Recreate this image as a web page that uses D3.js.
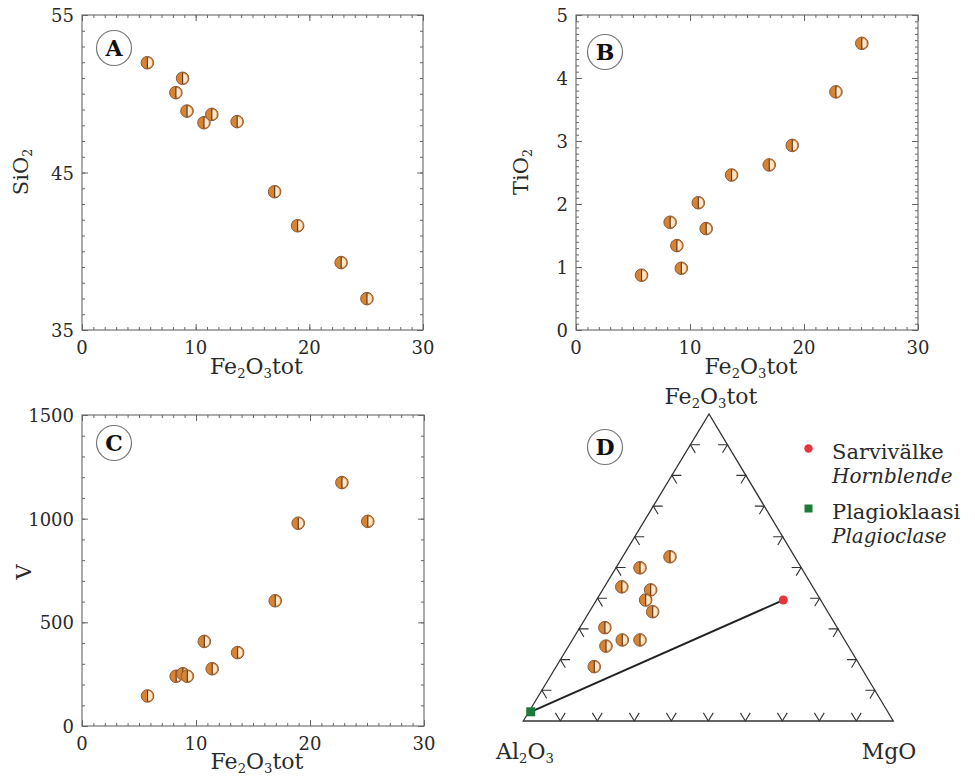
<!DOCTYPE html>
<html><head><meta charset="utf-8">
<script src="https://cdn.jsdelivr.net/npm/d3@7"></script>
<style>
body{margin:0;background:#fff;}
svg{display:block;}
svg text{fill:#2a2a2a;}
</style></head>
<body>
<svg id="c" width="975" height="779"></svg>
<script>
// ---------- data ----------
const fe2o3 = [5.75, 8.26, 8.85, 9.24, 10.73, 11.42, 13.65, 16.95, 18.97, 22.8, 25.07];
const sio2  = [51.97, 50.07, 50.98, 48.9, 48.16, 48.69, 48.23, 43.78, 41.62, 39.28, 36.99];
const tio2  = [0.87, 1.71, 1.34, 0.98, 2.02, 1.61, 2.46, 2.62, 2.93, 3.78, 4.55];
const vanad = [145, 240, 252, 240, 408, 276, 354, 604, 978, 1174, 987];

const xTicks = [0, 10, 20, 30];
const sioTicks = [35, 45, 55];
const tioTicks = [0, 1, 2, 3, 4, 5];
const vTicks = [0, 500, 1000, 1500];

// ternary (wt% normalised): Fe2O3tot (top), Al2O3 (left), MgO (right)
const triFe = [53.5, 49.9, 43.7, 42.7, 39.4, 35.6, 30.4, 24.4, 26.4, 26.4, 17.7];
const triMg = [12.8, 6.5, 4.7, 13.0, 13.3, 17.1, 6.8, 10.1, 13.5, 18.3, 10.3];
const triAl = triFe.map((f, i) => 100 - f - triMg[i]);
const mineralNames = ["Sarvivälke", "Plagioklaasi"];
const mineralNamesEn = ["Hornblende", "Plagioclase"];
const mineralFe = [39.4, 3.0];
const mineralMg = [50.5, 0.5];
const mineralAl = mineralFe.map((f, i) => 100 - f - mineralMg[i]);
const triTicks = [10, 20, 30, 40, 50, 60, 70, 80, 90];

// ---------- drawing ----------
const FONT = "'DejaVu Serif', 'Liberation Serif', serif";
const svg = d3.select("#c");

function marker(g, x, y) {
  const r = 6.3;
  const m = g.append("g").attr("transform", `translate(${x},${y})`);
  m.append("circle").attr("r", r).attr("fill", "#d8832f").attr("stroke", "#8a5a3a").attr("stroke-width", 1);
  m.append("path").attr("d", d3.arc()({innerRadius: 0, outerRadius: r - 1.4, startAngle: 0.1, endAngle: Math.PI - 0.1}))
    .attr("fill", "#fbe6cc");
  m.append("line").attr("x1", 0).attr("x2", 0).attr("y1", -r + 0.5).attr("y2", r - 0.5)
    .attr("stroke", "#5a3826").attr("stroke-width", 1.1);
}

function txt(sel) { return sel.style("font-family", FONT); }

function panelLabel(x, y, letter) {
  svg.append("circle").attr("cx", x).attr("cy", y).attr("r", 17.5)
    .attr("fill", "#fff").attr("stroke", "#777").attr("stroke-width", 1.2);
  txt(svg.append("text")).attr("x", x).attr("y", y + 8).attr("text-anchor", "middle")
    .attr("font-size", 22).attr("font-weight", "bold").style("fill", "#111").text(letter);
}

function chemText(sel, parts, size) {
  txt(sel);
  parts.forEach(([t, sub], i) => {
    const ts = sel.append("tspan").text(t);
    if (sub) ts.attr("font-size", size * 0.6).attr("dy", size * 0.2);
    else if (i > 0 && parts[i - 1][1]) ts.attr("dy", -size * 0.2);
  });
  return sel;
}

function scatter(opt) {
  const x = d3.scaleLinear().domain([0, 30]).range([opt.x0, opt.x1]);
  const y = d3.scaleLinear().domain(opt.yDomain).range([opt.y0, opt.y1]);
  const g = svg.append("g");
  const ax = (gen, tr, vals, size) => {
    g.append("g").attr("transform", tr)
      .call(gen.tickValues(vals).tickSize(size).tickFormat(""))
      .call(s => { s.select(".domain").remove(); s.selectAll("line").attr("stroke", "#666").attr("stroke-width", 1); });
  };
  const xMinor = d3.range(0, 30.001, 1);
  const yMinor = d3.range(opt.yDomain[0], opt.yDomain[1] + 1e-6, opt.yMinor);
  ax(d3.axisBottom(x), `translate(0,${opt.y0})`, xMinor, -3);
  ax(d3.axisBottom(x), `translate(0,${opt.y0})`, xTicks, -6);
  ax(d3.axisTop(x), `translate(0,${opt.y1})`, xMinor, -3);
  ax(d3.axisTop(x), `translate(0,${opt.y1})`, xTicks, -6);
  ax(d3.axisLeft(y), `translate(${opt.x0},0)`, yMinor, -3);
  ax(d3.axisLeft(y), `translate(${opt.x0},0)`, opt.yTicks, -6);
  ax(d3.axisRight(y), `translate(${opt.x1},0)`, yMinor, -3);
  ax(d3.axisRight(y), `translate(${opt.x1},0)`, opt.yTicks, -6);
  g.append("rect").attr("x", opt.x0).attr("y", opt.y1).attr("width", opt.x1 - opt.x0).attr("height", opt.y0 - opt.y1)
    .attr("fill", "none").attr("stroke", "#666").attr("stroke-width", 1.1);
  // tick labels
  txt(g.selectAll(null).data(xTicks).join("text"))
    .attr("x", d => x(d)).attr("y", opt.y0 + 24).attr("text-anchor", "middle").attr("font-size", 18).text(d => d);
  txt(g.selectAll(null).data(opt.yTicks).join("text"))
    .attr("x", opt.x0 - 8).attr("y", d => y(d) + 7).attr("text-anchor", "end").attr("font-size", 18).text(d => d);
  // titles
  chemText(g.append("text").attr("x", (opt.x0 + opt.x1) / 2 + 4).attr("y", opt.xTitleY)
    .attr("text-anchor", "middle").attr("font-size", 22), [["Fe", false], ["2", true], ["O", false], ["3", true], ["tot", false]], 22);
  chemText(g.append("text").attr("transform", `translate(${opt.yTitleX},${opt.yTitleY}) rotate(-90)`)
    .attr("text-anchor", "middle").attr("font-size", 21), opt.yTitle, 21);
  // points
  opt.ys.forEach((v, i) => marker(g, x(fe2o3[i]), y(v)));
}

scatter({x0: 82, x1: 423, y0: 330, y1: 15, yDomain: [35, 55], yTicks: sioTicks, yMinor: 1,
  ys: sio2, xTitleY: 374, yTitleX: 28, yTitleY: 172, yTitle: [["SiO", false], ["2", true]]});
panelLabel(114, 48, "A");

scatter({x0: 576, x1: 918, y0: 330, y1: 15, yDomain: [0, 5], yTicks: tioTicks, yMinor: 0.1,
  ys: tio2, xTitleY: 374, yTitleX: 528, yTitleY: 172, yTitle: [["TiO", false], ["2", true]]});
panelLabel(605, 52, "B");

scatter({x0: 82, x1: 424, y0: 726, y1: 415, yDomain: [0, 1500], yTicks: vTicks, yMinor: 100,
  ys: vanad, xTitleY: 769, yTitleX: 31, yTitleY: 572, yTitle: [["V", false]]});
panelLabel(114, 443, "C");

// ---------- ternary ----------
const A = [523.3, 721], M = [893.3, 721], F = [709, 414];
const feY = d3.scaleLinear().domain([0, 100]).range([A[1], F[1]]);
const mgX = d3.scaleLinear().domain([0, 100]).range([0, M[0] - A[0]]);
const feX = d3.scaleLinear().domain([0, 100]).range([0, F[0] - A[0]]);
const tern = (fe, mg) => [A[0] + mgX(mg) + feX(fe), feY(fe)];

const tg = svg.append("g");
tg.append("path").attr("d", d3.line()([A, M, F, A]) + "Z").attr("fill", "none")
  .attr("stroke", "#333").attr("stroke-width", 1.3).attr("stroke-linejoin", "miter");

function unit(p, q) { const dx = q[0] - p[0], dy = q[1] - p[1], l = Math.hypot(dx, dy); return [dx / l, dy / l]; }
const L = 9.5;
function tick(p, d1, d2) {
  tg.append("path").attr("d", d3.line()([[p[0] + d1[0] * L, p[1] + d1[1] * L], p, [p[0] + d2[0] * L, p[1] + d2[1] * L]]))
    .attr("fill", "none").attr("stroke", "#333").attr("stroke-width", 1.1);
}
triTicks.forEach(t => {
  tick(tern(0, t), unit(A, F), unit(M, F));          // base
  tick(tern(t, 0), unit(A, M), unit(F, M));          // left edge
  tick(tern(t, 100 - t), unit(M, A), unit(F, A));    // right edge
});

// tie line
tg.append("path").attr("d", d3.line()([tern(mineralFe[1], mineralMg[1]), tern(mineralFe[0], mineralMg[0])]))
  .attr("stroke", "#222").attr("stroke-width", 2);
triFe.forEach((f, i) => { const p = tern(f, triMg[i]); marker(tg, p[0], p[1]); });
const hb = tern(mineralFe[0], mineralMg[0]);
tg.append("circle").attr("cx", hb[0]).attr("cy", hb[1]).attr("r", 4.5).attr("fill", "#e8333a");
const pl = tern(mineralFe[1], mineralMg[1]);
tg.append("rect").attr("x", pl[0] - 4.5).attr("y", pl[1] - 4.5).attr("width", 9).attr("height", 9).attr("fill", "#1e7a3a");

chemText(tg.append("text").attr("x", 711).attr("y", 404).attr("text-anchor", "middle").attr("font-size", 22),
  [["Fe", false], ["2", true], ["O", false], ["3", true], ["tot", false]], 22);
chemText(tg.append("text").attr("x", 525).attr("y", 759).attr("text-anchor", "middle").attr("font-size", 22),
  [["Al", false], ["2", true], ["O", false], ["3", true]], 22);
txt(tg.append("text")).attr("x", 889).attr("y", 759).attr("text-anchor", "middle").attr("font-size", 22).text("MgO");
panelLabel(605, 447, "D");

// legend
tg.append("circle").attr("cx", 808.5).attr("cy", 448.5).attr("r", 4.2).attr("fill", "#e8333a");
tg.append("rect").attr("x", 804.5).attr("y", 504.5).attr("width", 8).attr("height", 8).attr("fill", "#1e7a3a");
txt(tg.append("text")).attr("x", 832).attr("y", 459).attr("font-size", 21).text(mineralNames[0]);
txt(tg.append("text")).attr("x", 832).attr("y", 483).attr("font-size", 20).attr("font-style", "italic").text(mineralNamesEn[0]);
txt(tg.append("text")).attr("x", 832).attr("y", 519).attr("font-size", 21).text(mineralNames[1]);
txt(tg.append("text")).attr("x", 832).attr("y", 543).attr("font-size", 20).attr("font-style", "italic").text(mineralNamesEn[1]);
</script>
</body></html>
